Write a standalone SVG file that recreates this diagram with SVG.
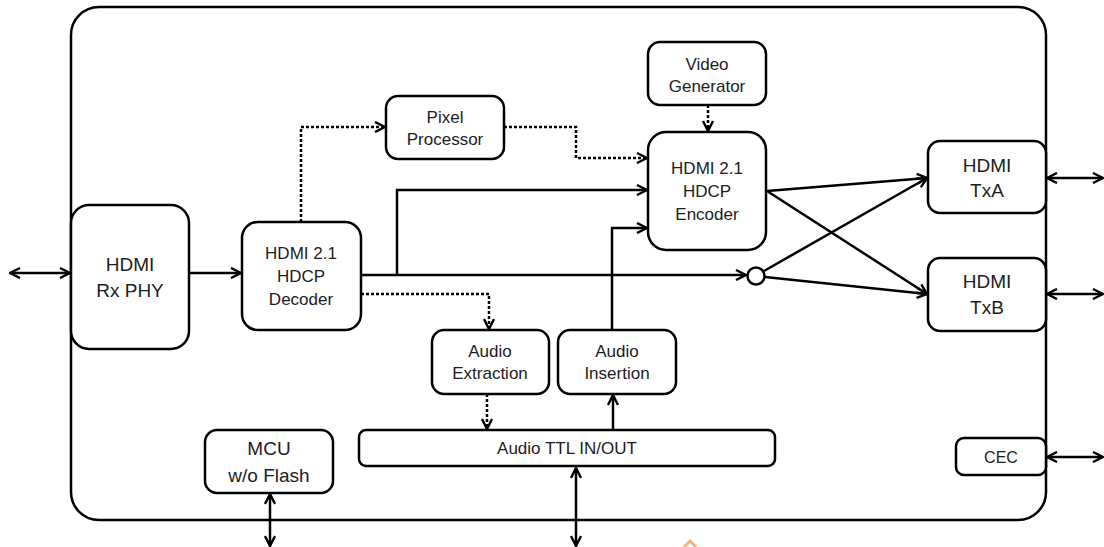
<svg xmlns="http://www.w3.org/2000/svg" width="1104" height="547" viewBox="0 0 1104 547">
<defs>
<marker id="arr" viewBox="0 0 12 12" refX="11" refY="6" markerWidth="12" markerHeight="12" markerUnits="userSpaceOnUse" orient="auto-start-reverse">
<path d="M1,1 L11,6 L1,11" fill="none" stroke="#000" stroke-width="2.4" stroke-linejoin="miter"/>
</marker>
</defs>
<style>
.box{fill:#fff;stroke:#000;stroke-width:2.5}
.t{font-family:"Liberation Sans",Arial,sans-serif;fill:#1c1c24;text-anchor:middle}
.big{font-size:19px}
.mid{font-size:17px}
.ln{fill:none;stroke:#000;stroke-width:2.5}
.dot{fill:none;stroke:#000;stroke-width:2.5;stroke-dasharray:3 2}
</style>
<rect x="0" y="0" width="1104" height="547" fill="#fff"/>
<g id="outer"><rect x="71" y="7" width="975" height="513" rx="28" class="box"/></g>

<g id="connectors">
<line x1="10" y1="273" x2="70" y2="273" class="ln" marker-start="url(#arr)" marker-end="url(#arr)"/>
<line x1="189" y1="273" x2="241" y2="273" class="ln" marker-end="url(#arr)"/>
<line x1="361" y1="275" x2="746" y2="275" class="ln" marker-end="url(#arr)"/>
<polyline points="397,275 397,190 647,190" class="ln" marker-end="url(#arr)"/>
<polyline points="301,222 301,127 385,127" class="dot" marker-end="url(#arr)"/>
<polyline points="361,294 489,294 489,329" class="dot" marker-end="url(#arr)"/>
<polyline points="504,127 576,127 576,158 647,158" class="dot" marker-end="url(#arr)"/>
<line x1="708" y1="105" x2="708" y2="131" class="dot" marker-end="url(#arr)"/>
<polyline points="612,330 612,228 647,228" class="ln" marker-end="url(#arr)"/>
<line x1="767" y1="191" x2="927" y2="178" class="ln" marker-end="url(#arr)"/>
<line x1="767" y1="191" x2="927" y2="294" class="ln" marker-end="url(#arr)"/>
<line x1="764" y1="271" x2="927" y2="178" class="ln" marker-end="url(#arr)"/>
<line x1="765" y1="277" x2="927" y2="294" class="ln" marker-end="url(#arr)"/>
<circle cx="756" cy="276" r="8.5" fill="#fff" stroke="#000" stroke-width="2.5"/>
<line x1="1047" y1="178" x2="1103" y2="178" class="ln" marker-start="url(#arr)" marker-end="url(#arr)"/>
<line x1="1047" y1="294" x2="1103" y2="294" class="ln" marker-start="url(#arr)" marker-end="url(#arr)"/>
<line x1="1047" y1="457" x2="1103" y2="457" class="ln" marker-start="url(#arr)" marker-end="url(#arr)"/>
<line x1="487" y1="394" x2="487" y2="429" class="dot" marker-end="url(#arr)"/>
<line x1="613" y1="430" x2="613" y2="395" class="ln" marker-end="url(#arr)"/>
<line x1="576" y1="468" x2="576" y2="546" class="ln" marker-start="url(#arr)" marker-end="url(#arr)"/>
<line x1="270" y1="494" x2="270" y2="546" class="ln" marker-start="url(#arr)" marker-end="url(#arr)"/>
</g>

<g id="rxphy"><rect x="71" y="205" width="118" height="144" rx="18" class="box"/>
<text x="130" y="271" class="t big">HDMI</text><text x="130" y="297" class="t big">Rx PHY</text></g>

<g id="decoder"><rect x="242" y="222" width="119" height="108" rx="16" class="box"/>
<text x="301" y="259" class="t mid">HDMI 2.1</text><text x="301" y="282" class="t mid">HDCP</text><text x="301" y="305" class="t mid">Decoder</text></g>

<g id="pixel"><rect x="386" y="96" width="118" height="63" rx="12" class="box"/>
<text x="445" y="123" class="t mid">Pixel</text><text x="445" y="145" class="t mid">Processor</text></g>

<g id="videogen"><rect x="648" y="42" width="118" height="63" rx="12" class="box"/>
<text x="707" y="70" class="t mid">Video</text><text x="707" y="92" class="t mid">Generator</text></g>

<g id="encoder"><rect x="648" y="132" width="118" height="118" rx="18" class="box"/>
<text x="707" y="174" class="t mid">HDMI 2.1</text><text x="707" y="197" class="t mid">HDCP</text><text x="707" y="220" class="t mid">Encoder</text></g>

<g id="txa"><rect x="928" y="141" width="118" height="72" rx="12" class="box"/>
<text x="987" y="172" class="t big">HDMI</text><text x="987" y="197" class="t big">TxA</text></g>

<g id="txb"><rect x="928" y="258" width="118" height="73" rx="12" class="box"/>
<text x="987" y="288" class="t big">HDMI</text><text x="987" y="314" class="t big">TxB</text></g>

<g id="audioext"><rect x="432" y="330" width="117" height="64" rx="12" class="box"/>
<text x="490" y="357" class="t mid">Audio</text><text x="490" y="379" class="t mid">Extraction</text></g>

<g id="audioins"><rect x="558" y="330" width="118" height="64" rx="12" class="box"/>
<text x="617" y="357" class="t mid">Audio</text><text x="617" y="379" class="t mid">Insertion</text></g>

<g id="audiottl"><rect x="359" y="430" width="416" height="36" rx="7" class="box"/>
<text x="567" y="454" class="t mid">Audio TTL IN/OUT</text></g>

<g id="mcu"><rect x="205" y="430" width="128" height="63" rx="12" class="box"/>
<text x="269" y="455" class="t big">MCU</text><text x="269" y="482" class="t big">w/o Flash</text></g>

<g id="cec"><rect x="956" y="438" width="90" height="37" rx="8" class="box"/>
<text x="1001" y="463" class="t" font-size="16">CEC</text></g>

<polyline points="684,547 690,541 696,547" fill="none" stroke="#f9b27a" stroke-width="3"/>
</svg>
